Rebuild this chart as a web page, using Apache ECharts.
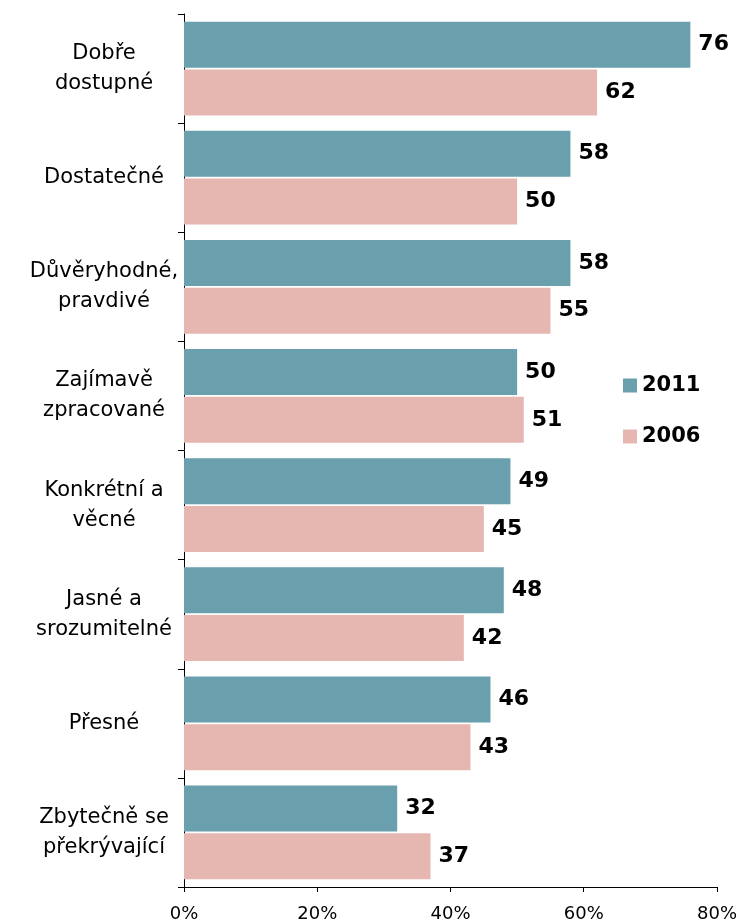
<!DOCTYPE html>
<html>
<head>
<meta charset="utf-8">
<script src="https://cdn.jsdelivr.net/npm/echarts@6/dist/echarts.min.js"></script>
<style>
  html, body { margin: 0; padding: 0; background: #fff; }
  #mychart { width: 740px; height: 923px; }
</style>
</head>
<body>
<div id="mychart"></div>
<script>
const catName = ["Dobře\ndostupné", "Dostatečné", "Důvěryhodné,\npravdivé", "Zajímavě\nzpracované",
  "Konkrétní a\nvěcné", "Jasné a\nsrozumitelné", "Přesné", "Zbytečně se\npřekrývající"];
const val2011 = [76, 58, 58, 50, 49, 48, 46, 32];
const val2006 = [62, 50, 55, 51, 45, 42, 43, 37];
const xTicks = [0, 20, 40, 60, 80];

const font = "DejaVu Sans";
var chart = echarts.init(document.getElementById("mychart"));
const option = {
  animation: false,
  textStyle: { fontFamily: font },
  legend: {
    orient: 'vertical',
    left: 618,
    top: 370,
    itemWidth: 14,
    itemHeight: 14,
    itemGap: 30,
    icon: 'rect',
    textStyle: { fontSize: 21, fontWeight: 'bold', color: '#000', fontFamily: font },
    data: ['2011', '2006']
  },
  grid: { left: 184, right: 23, top: 14, bottom: 36 },
  xAxis: {
    type: 'value',
    min: xTicks[0],
    max: xTicks[xTicks.length - 1],
    interval: 20,
    splitLine: { show: false },
    axisLine: { show: true, lineStyle: { color: '#000' } },
    axisTick: { show: true, length: 5, lineStyle: { color: '#000' } },
    axisLabel: { formatter: '{value}%', color: '#000', fontSize: 18, margin: 18, fontFamily: font }
  },
  yAxis: {
    type: 'category',
    inverse: true,
    data: catName,
    axisLine: { show: true, lineStyle: { color: '#000' } },
    axisTick: { show: true, length: 6, lineStyle: { color: '#000' } },
    axisLabel: { color: '#000', fontSize: 21, align: 'center', margin: 80, lineHeight: 30, fontFamily: font }
  },
  series: [
    {
      name: '2011',
      type: 'bar',
      barCategoryGap: '14%',
      barGap: '4%',
      itemStyle: { color: '#6a9fad' },
      label: { show: true, position: 'right', distance: 8, color: '#000', fontSize: 22, fontWeight: 'bold', fontFamily: font },
      data: val2011
    },
    {
      name: '2006',
      type: 'bar',
      barCategoryGap: '14%',
      barGap: '4%',
      itemStyle: { color: '#e6b7b1' },
      label: { show: true, position: 'right', distance: 8, color: '#000', fontSize: 22, fontWeight: 'bold', fontFamily: font },
      data: val2006
    }
  ]
};
chart.setOption(option);
</script>
</body>
</html>
